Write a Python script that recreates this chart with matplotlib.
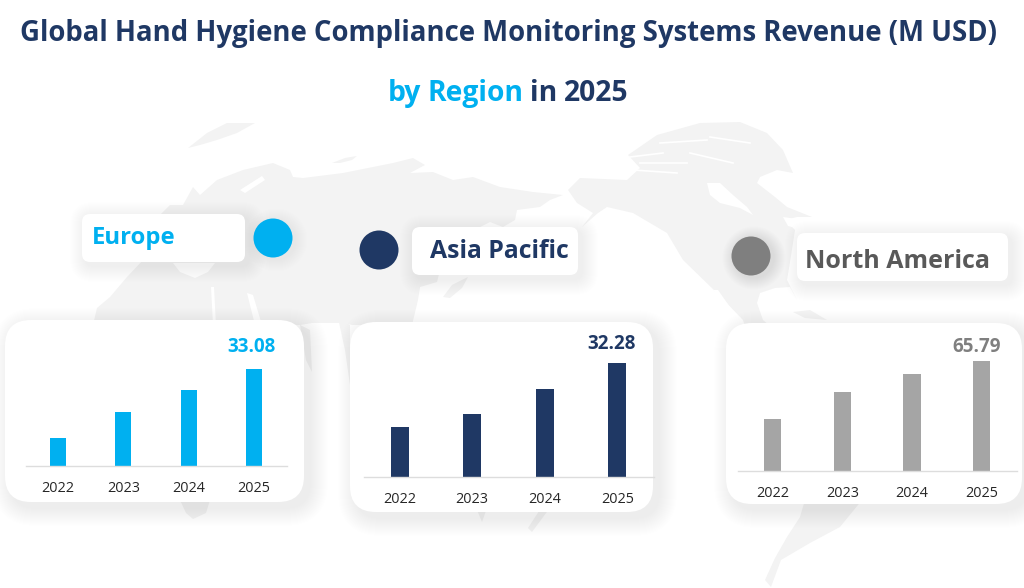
'''
Global hand hygiene compliance monitoring revenue by region,
three small bar panels over a pale world map.
'''
import matplotlib
matplotlib.use('Agg')
import matplotlib.pyplot as plt
from matplotlib.patches import FancyBboxPatch, Polygon, Circle

W, H = 1024, 588

# --- data ---
years = ['2022', '2023', '2024', '2025']
europe = [9.4, 18.4, 25.7, 33.08]
asia_pacific = [14.24, 17.75, 25.06, 32.28]
north_america = [31.4, 47.2, 58.0, 65.79]

NAVY = '#1F3864'
BLUE = '#00B0F0'
MAP = '#F3F3F3'
FONT = 'Open Sans'

# --- background map outline, pixel coordinates (decoration only) ---
eurasia_africa = [(93, 325), (97, 308), (110, 297), (127, 277), (145, 258), (150, 225),
                  (170, 205), (183, 205), (193, 187), (200, 195), (217, 180), (243, 170),
                  (273, 163), (290, 170), (293, 177), (303, 178), (343, 173), (393, 163),
                  (413, 158), (425, 165), (410, 173), (433, 172), (453, 180), (473, 177),
                  (500, 187), (533, 192), (563, 195), (550, 200), (540, 207), (517, 210),
                  (515, 220), (503, 227), (490, 222), (470, 232), (440, 270), (437, 282),
                  (420, 287), (418, 300), (412, 325), (352, 325), (345, 323), (312, 323), (300, 325)]
north_am = [(568, 190), (580, 178), (627, 180), (640, 168), (628, 155), (657, 135), (700, 123),
            (740, 122), (767, 133), (783, 150), (793, 173), (777, 170), (760, 177), (757, 183),
            (775, 197), (787, 207), (812, 217), (797, 217), (785, 220), (795, 230), (793, 243),
            (790, 262), (787, 280), (797, 300), (790, 287), (775, 288), (760, 293), (757, 303),
            (763, 320), (770, 326), (745, 326), (743, 320), (717, 293), (683, 260), (667, 233),
            (633, 213), (607, 207), (598, 213), (582, 227), (593, 213), (577, 203)]
grey_bits = [
    [(188, 148), (207, 133), (227, 123), (255, 123), (237, 133), (217, 140), (200, 145)],
    [(332, 163), (345, 158), (357, 156), (352, 160), (340, 163)],
    [(443, 297), (452, 285), (468, 277), (462, 288), (450, 298)],
    [(180, 500), (210, 500), (206, 513), (193, 519), (186, 513)],
    [(475, 505), (488, 505), (482, 522)],
    [(543, 505), (552, 505), (532, 532), (528, 528)],
    [(805, 500), (862, 500), (840, 527), (810, 543), (781, 560), (771, 587), (765, 580),
     (775, 558), (787, 537), (800, 517)],
    [(300, 325), (310, 330), (312, 372), (306, 360)],
    [(338, 318), (350, 325), (350, 385), (345, 350)],
    [(793, 312), (810, 310), (827, 320), (805, 318)],
]
white_bits = [
    [(173, 263), (215, 263), (208, 272), (195, 278), (180, 272)],
    [(211, 287), (214, 287), (216, 325), (213, 325)],
    [(247, 293), (253, 295), (262, 325), (255, 325)],
    [(240, 190), (262, 176), (265, 180), (245, 193)],
    [(707, 183), (720, 183), (733, 195), (747, 207), (753, 215), (740, 208), (720, 203), (710, 195)],
    [(783, 217), (797, 219), (800, 229), (788, 226)],
    [(713, 290), (718, 290), (737, 317), (731, 317)],
]
white_lines = [[(630, 157), (663, 153)], [(640, 163), (687, 163)], [(660, 143), (707, 140)],
               [(690, 153), (733, 163)], [(710, 137), (750, 143)], [(633, 170), (677, 173)]]

# --- layout, pixel coordinates ---
panels = [
    dict(vals=europe, name='Europe', color=BLUE, name_color=BLUE, val_color=BLUE, dot_color=BLUE, halo=0.002,
         name_size=17.2, card=(5, 320, 304, 502), axis_x=(25.5, 286.5), base=465.5, px_per=97 / 33.08,
         label=(82, 214, 245, 262), text=(92, 237), dot=(273, 238), val_x=251, val_y=346),
    dict(vals=asia_pacific, name='Asia Pacific', color=NAVY, name_color=NAVY, val_color=NAVY, dot_color=NAVY, halo=0.0,
         name_size=17.8, card=(350, 322, 653, 512), axis_x=(363.5, 653.5), base=476.5, px_per=113.3 / 32.28,
         label=(412, 227, 578, 275), text=(430, 251), dot=(379, 250), val_x=612, val_y=343),
    dict(vals=north_america, name='North America', color='#A5A5A5', name_color='#595959', val_color='#7F7F7F',
         dot_color='#7F7F7F', halo=0.014,
         name_size=18, card=(726, 323, 1022, 504), axis_x=(737.8, 1016.5), base=471, px_per=109.7 / 65.79,
         label=(797, 233, 1008, 281), text=(805, 260), dot=(751, 256), val_x=977, val_y=346),
]


def rounded(ax, box, radius, **kw):
    x0, y0, x1, y1 = box
    p = FancyBboxPatch((x0 + radius, y0 + radius), x1 - x0 - 2 * radius, y1 - y0 - 2 * radius,
                       boxstyle='round,pad=%f,rounding_size=%f' % (radius, radius), lw=0, **kw)
    ax.add_patch(p)


def shadow(ax, box, radius, dx, dy, spread, alpha, z):
    # stacked translucent boxes stand in for a blur
    x0, y0, x1, y1 = box
    for i in range(spread, 0, -1):
        rounded(ax, (x0 + dx - i, y0 + dy - i, x1 + dx + i, y1 + dy + i), radius + i,
                facecolor='#7F7F8C', alpha=alpha, zorder=z)


def draw_panel(fig, bg, p):
    shadow(bg, p['card'], 26, 6, 6, 18, 0.005, 2)
    rounded(bg, p['card'], 26, facecolor='white', zorder=3)
    shadow(bg, p['label'], 8, 4, 4, 16, 0.005, 2)
    rounded(bg, p['label'], 8, facecolor='white', zorder=3)
    if p['halo']:
        for i in range(12, 0, -1):
            bg.add_patch(Circle((p['dot'][0] + 3, p['dot'][1] + 2), 19.5 + i, fc='#8A8A98',
                                alpha=p['halo'], lw=0, zorder=2))
    bg.add_patch(Circle(p['dot'], 19.5, fc=p['dot_color'], lw=0, zorder=4))
    bg.text(p['text'][0], p['text'][1] + 1, p['name'], color=p['name_color'], fontsize=p['name_size'],
            fontweight='bold', family=FONT, va='center', ha='left', zorder=5)

    # axes from the baseline up to the card top, y scale from the bar heights
    x0, x1 = p['axis_x']
    top = p['card'][1]
    ax = fig.add_axes([x0 / W, 1 - p['base'] / H, (x1 - x0) / W, (p['base'] - top) / H])
    ax.patch.set_alpha(0)
    ax.set_xlim(-0.5, 3.5)
    ax.set_ylim(0, (p['base'] - top) / p['px_per'])
    ax.bar(range(len(years)), p['vals'], width=0.245, color=p['color'])
    ax.set_xticks(range(len(years)))
    ax.set_xticklabels(years, fontsize=10.4, family=FONT, color='#262626')
    ax.tick_params(axis='x', length=0, pad=11)
    ax.set_yticks([])
    for side in ['top', 'left', 'right']:
        ax.spines[side].set_visible(False)
    ax.spines['bottom'].set_color('#DDDDDD')
    ax.spines['bottom'].set_linewidth(1)
    bg.text(p['val_x'], p['val_y'] + 1, '%.2f' % p['vals'][-1], color=p['val_color'], fontsize=13.5,
            fontweight='bold', family=FONT, ha='center', va='center', zorder=5)


def draw_runs(fig, bg, runs, y, x_start, size):
    # coloured words on one line, placed one after the other
    x = x_start
    renderer = fig.canvas.get_renderer()
    for s, c in runs:
        t = bg.text(x, y, s, color=c, fontsize=size, fontweight='bold', family=FONT,
                    ha='left', va='center', zorder=5)
        x = t.get_window_extent(renderer).x1 + 6.5


if __name__ == '__main__':
    fig = plt.figure(figsize=(W / 100, H / 100), dpi=100, facecolor='white')
    bg = fig.add_axes([0, 0, 1, 1])
    bg.set_xlim(0, W)
    bg.set_ylim(H, 0)
    bg.axis('off')

    bg.add_patch(Polygon(eurasia_africa, fc=MAP, lw=0, zorder=1))
    bg.add_patch(Polygon(north_am, fc=MAP, lw=0, zorder=1))
    for pts in grey_bits:
        bg.add_patch(Polygon(pts, fc=MAP, lw=0, zorder=1))
    for pts in white_bits:
        bg.add_patch(Polygon(pts, fc='white', lw=0, zorder=1.5))
    for pts in white_lines:
        bg.plot(*zip(*pts), color='white', lw=1.2, zorder=1.5)

    for p in panels:
        draw_panel(fig, bg, p)

    bg.text(508, 33.5, 'Global Hand Hygiene Compliance Monitoring Systems Revenue (M USD)', color=NAVY,
            fontsize=19.85, fontweight='bold', family=FONT, ha='center', va='center', zorder=5)
    draw_runs(fig, bg, [('by', BLUE), ('Region', BLUE), ('in', NAVY), ('2025', NAVY)], 93.5, 388, 20.3)

    fig.savefig('out.png', dpi=100)
